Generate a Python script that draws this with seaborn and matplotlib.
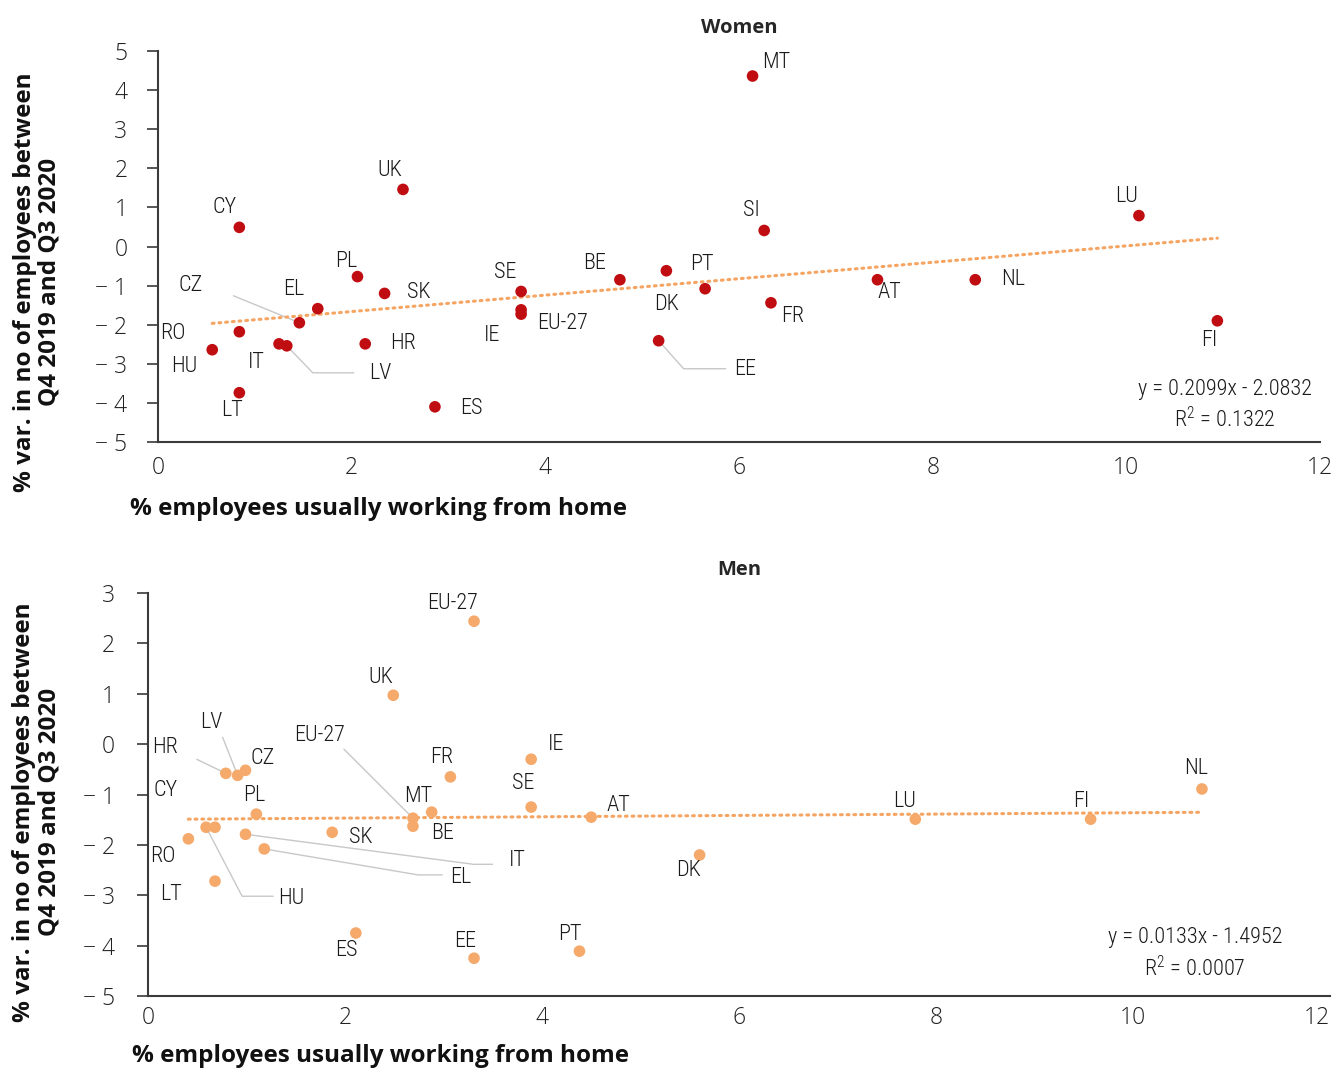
import numpy as np
import pandas as pd
import seaborn as sns
import matplotlib.pyplot as plt
from matplotlib import font_manager
from matplotlib.lines import Line2D
from matplotlib.transforms import IdentityTransform
from matplotlib.ticker import FuncFormatter

# --- data ---
women_country = ['MT', 'UK', 'CY', 'SI', 'LU', 'PL', 'SK', 'EL', 'CZ', 'RO', 'HU', 'IT', 'LV', 'HR',
                 'LT', 'ES', 'SE', 'EU-27', 'IE', 'BE', 'PT', 'DK', 'FR', 'EE', 'AT', 'NL', 'FI']
women_home = [6.14, 2.53, 0.84, 6.26, 10.13, 2.06, 2.34, 1.65, 1.46, 0.84, 0.56, 1.25, 1.33, 2.14,
              0.84, 2.86, 3.75, 3.75, 3.75, 4.77, 5.25, 5.65, 6.33, 5.17, 7.43, 8.44, 10.94]
women_var = [4.36, 1.46, 0.49, 0.41, 0.79, -0.77, -1.20, -1.59, -1.95, -2.18, -2.64, -2.49, -2.54, -2.49,
             -3.74, -4.10, -1.15, -1.62, -1.73, -0.85, -0.62, -1.08, -1.44, -2.41, -0.85, -0.85, -1.90]

men_country = ['EU-27', 'UK', 'IE', 'FR', 'SE', 'MT', 'EU-27', 'BE', 'AT', 'LU', 'FI', 'NL', 'DK', 'PT',
               'EE', 'ES', 'SK', 'HR', 'LV', 'CZ', 'PL', 'HU', 'CY', 'RO', 'LT', 'IT', 'EL']
men_home = [3.31, 2.49, 3.89, 3.07, 3.89, 2.88, 2.69, 2.69, 4.50, 7.79, 9.57, 10.70, 5.60, 4.38,
            3.31, 2.11, 1.87, 0.79, 0.91, 0.99, 1.10, 0.59, 0.68, 0.41, 0.68, 0.99, 1.18]
men_var = [2.44, 0.97, -0.30, -0.65, -1.25, -1.35, -1.47, -1.63, -1.45, -1.49, -1.49, -0.89, -2.20, -4.11,
           -4.25, -3.75, -1.75, -0.58, -0.62, -0.52, -1.39, -1.65, -1.65, -1.88, -2.72, -1.79, -2.08]

# trendline coefficients as printed on the chart
women_slope, women_icept, women_r2 = 0.2099, -2.0832, 0.1322
men_slope, men_icept, men_r2 = 0.0133, -1.4952, 0.0007

# label offsets (pixels, y up) relative to each point, same order as the data
women_lab_off = [(24, 14), (-13, 19), (-15, 20), (-13, 20), (-12, 19), (-11, 15), (34, 1), (-24, 19),
                 (-109, 37), (-67, -2), (-28, -17), (-23, -19), (93, -28), (38, 0), (-7, -18), (36, -2),
                 (-16, 19), (41, -14), (-29, -21), (-25, 16), (36, 6), (-39, -16), (22, -14), (86, -29),
                 (12, -13), (38, 0), (-8, -20)]
men_lab_off = [(-21, 18), (-13, 18), (25, 15), (-9, 19), (-8, 24), (-13, 16), (-93, 83), (30, -7),
               (27, 12), (-11, 18), (-9, 18), (-6, 20), (-11, -16), (-10, 17), (-9, 17), (-10, -17),
               (29, -5), (-61, 26), (-26, 53), (17, 12), (-2, 19), (85, -71), (-49, 37), (-26, -18),
               (-44, -13), (272, -26), (197, -29)]
# leader lines: index -> vertices (pixel offsets from the point)
women_leaders = {8: [(-66, 27)], 12: [(26, -27), (67, -27)], 23: [(25, -28), (67, -28)]}
men_leaders = {17: [(-29, 14)], 18: [(-15, 38)], 6: [(-69, 69)], 21: [(36, -69), (67, -69)],
               25: [(228, -30), (247, -30)], 26: [(154, -26), (178, -26)]}

sns.set_theme(style='white')
plt.rcParams['font.family'] = ['Open Sans', 'DejaVu Sans']
plt.rcParams['mathtext.default'] = 'regular'

# narrow light face for the data labels (fallback: DejaVu Sans condensed)
narrow = dict(family='DejaVu Sans', fontstretch='condensed', fontweight='normal')
light_faces = {(f.name, f.weight) for f in font_manager.fontManager.ttflist if f.style == 'normal'}
for cand in ['Open Sans Condensed', 'Roboto Condensed', 'Fira Sans Condensed', 'Encode Sans Condensed',
             'Barlow Semi Condensed']:
    weights = [w for (n, w) in light_faces if n == cand and isinstance(w, int) and w <= 400]
    if weights:
        narrow = dict(family=cand, fontweight=300 if 300 in weights else max(weights))
        break

fig = plt.figure(figsize=(13.34, 10.68), dpi=100)
ax1 = fig.add_axes([158 / 1334, 1 - 442 / 1068, 1162 / 1334, 391 / 1068])
ax2 = fig.add_axes([148 / 1334, 1 - 996 / 1068, 1182 / 1334, 403 / 1068])

dark = '#3a3a3a'
trend_col = '#F5A462'


def neg_fmt(v, pos):
    v = int(round(v))
    return f'\u2212 {abs(v)}' if v < 0 else f'{v}'


def draw_panel(ax, title, xs, ys, names, color, slope, icept, r2, lab_off, leaders,
               ylims, ypad, xpad, eq_pos, xlab_pos, ylab_pos):
    df = pd.DataFrame({'x': xs, 'y': ys})
    ax.set_xlim(0, 12)
    ax.set_ylim(*ylims)
    xline = np.array([min(xs), max(xs)])
    ax.plot(xline, slope * xline + icept, color=trend_col, lw=2.2, ls=(0, (0.6, 1.6)),
            dash_capstyle='round', zorder=2)
    sns.scatterplot(data=df, x='x', y='y', color=color, s=70, edgecolor='none', ax=ax, zorder=3)

    for i, (x, y, n) in enumerate(zip(xs, ys, names)):
        dx, dy = lab_off[i]
        ax.annotate(n, (x, y), xytext=(dx, dy), textcoords='offset pixels', ha='center', va='center',
                    fontsize=16, color='#1a1a1a', zorder=4, **narrow)
        if i in leaders:
            base = ax.transData.transform((x, y))
            verts = [base] + [base + np.array(p) for p in leaders[i]]
            vx, vy = zip(*verts)
            ax.add_line(Line2D(vx, vy, transform=IdentityTransform(), color='#c8c8c8', lw=1, zorder=1))

    sign = '-' if icept < 0 else '+'
    ax.text(eq_pos[0], eq_pos[1], f'y = {slope:.4f}x {sign} {abs(icept):.4f}\nR$^2$ = {r2:.4f}',
            transform=ax.transAxes, ha='center', va='center', multialignment='center',
            fontsize=16, color='#1a1a1a', linespacing=1.35, **narrow)

    ax.set_title(title, fontsize=14.5, fontweight='bold', pad=13)
    ax.set_xticks(range(0, 13, 2))
    ax.set_yticks(range(ylims[0], ylims[1] + 1))
    ax.yaxis.set_major_formatter(FuncFormatter(neg_fmt))
    ax.tick_params(axis='y', direction='out', length=8, width=1.2, color=dark, pad=ypad,
                   labelsize=16.5, left=True)
    ax.tick_params(axis='x', length=0, pad=xpad, labelsize=16.5)
    for lab in ax.get_xticklabels() + ax.get_yticklabels():
        lab.set_fontweight('light')
        lab.set_color('#222222')
    for s in ['top', 'right']:
        ax.spines[s].set_visible(False)
    for s in ['left', 'bottom']:
        ax.spines[s].set_color(dark)
        ax.spines[s].set_linewidth(1.5)

    ax.set_xlabel('% employees usually working from home', fontsize=17.5, fontweight='bold',
                  ha='left', va='center', color='#111111')
    ax.xaxis.set_label_coords(*xlab_pos)
    ax.set_ylabel('% var. in no of employees between\nQ4 2019 and Q3 2020', fontsize=17.5,
                  fontweight='bold', ha='center', va='center', multialignment='center',
                  color='#111111', linespacing=1.05)
    ax.yaxis.set_label_coords(*ylab_pos)


draw_panel(ax1, 'Women', women_home, women_var, women_country, '#C00D12',
           women_slope, women_icept, women_r2, women_lab_off, women_leaders,
           (-5, 5), 14, 10, (0.918, 0.093), (-0.024, -0.171), (-0.104, 0.41))
draw_panel(ax2, 'Men', men_home, men_var, men_country, '#F5A96B',
           men_slope, men_icept, men_r2, men_lab_off, men_leaders,
           (-5, 3), 16, 7, (0.886, 0.104), (-0.0135, -0.149), (-0.094, 0.457))
ax2.get_xticklabels()[-1].set_ha('right')

fig.savefig('out.png', dpi=100)
